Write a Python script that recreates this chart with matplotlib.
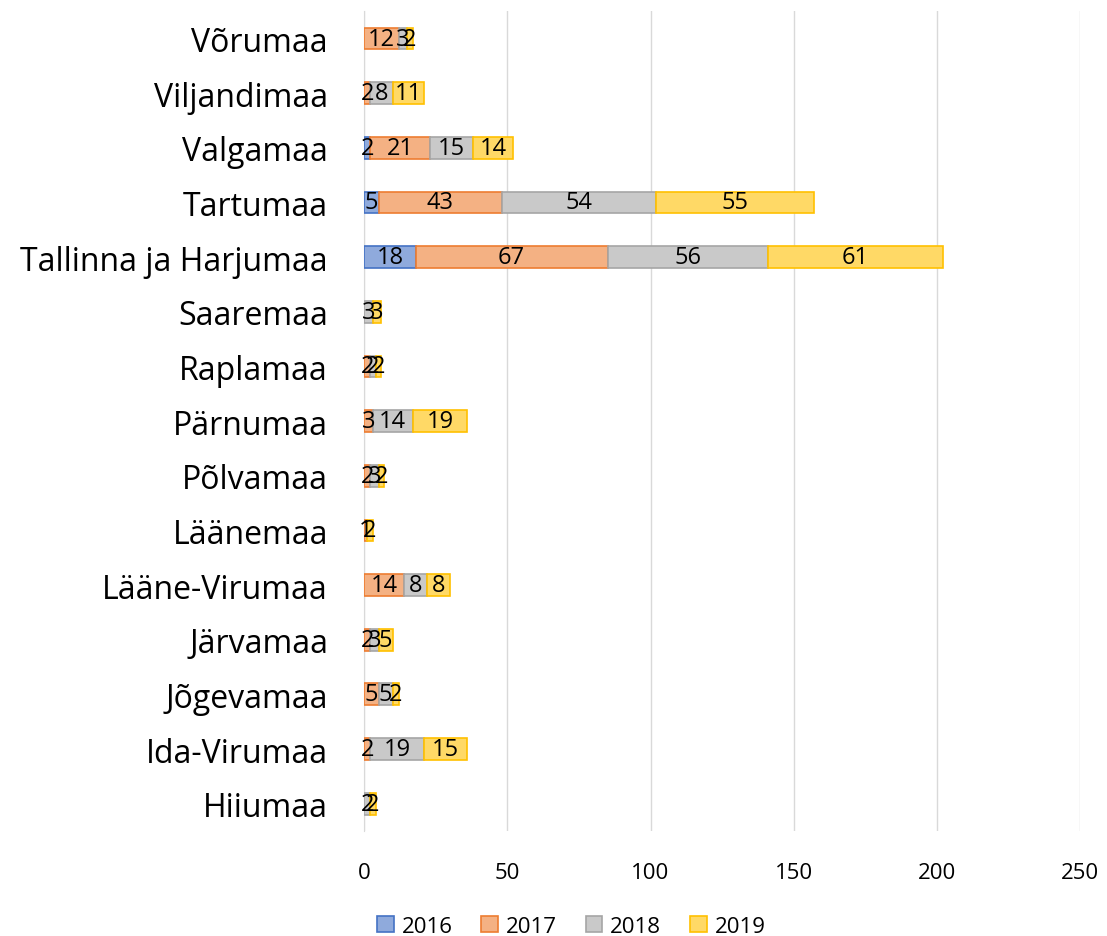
import matplotlib.pyplot as plt
import numpy as np

plt.rcParams['font.family'] = ['Open Sans', 'DejaVu Sans']

counties = ['Hiiumaa', 'Ida-Virumaa', 'Jõgevamaa', 'Järvamaa', 'Lääne-Virumaa',
            'Läänemaa', 'Põlvamaa', 'Pärnumaa', 'Raplamaa', 'Saaremaa',
            'Tallinna ja Harjumaa', 'Tartumaa', 'Valgamaa', 'Viljandimaa', 'Võrumaa']
years = ['2016', '2017', '2018', '2019']
v2016 = [0, 0, 0, 0, 0, 0, 0, 0, 0, 0, 18, 5, 2, 0, 0]
v2017 = [0, 2, 5, 2, 14, 1, 2, 3, 2, 0, 67, 43, 21, 2, 12]
v2018 = [2, 19, 5, 3, 8, 0, 3, 14, 2, 3, 56, 54, 15, 8, 3]
v2019 = [2, 15, 2, 5, 8, 2, 2, 19, 2, 3, 61, 55, 14, 11, 2]

fills = ['#8FAADC', '#F4B183', '#C9C9C9', '#FFD966']
edges = ['#4472C4', '#ED7D31', '#A5A5A5', '#FFC000']

fig = plt.figure(figsize=(11.07, 9.37), dpi=100)
ax = fig.add_axes([0.329, 0.112, 0.6466, 0.875])

y = np.arange(len(counties))
left = np.zeros(len(counties))
for vals, yr, fc, ec in zip([v2016, v2017, v2018, v2019], years, fills, edges):
    vals = np.array(vals)
    ax.barh(y, vals, left=left, height=0.4, color=fc, edgecolor=ec,
            linewidth=1.2, label=yr, zorder=3)
    for yi, v, l in zip(y, vals, left):
        if v > 0:
            ax.text(l + v / 2, yi, str(v), ha='center', va='center',
                    fontsize=17, color='black', zorder=4)
    left += vals

ax.set_xlim(0, 250)
ax.set_ylim(-0.5, 14.5)
ax.set_xticks([0, 50, 100, 150, 200, 250])
ax.set_yticks(y)
ax.set_yticklabels(counties, fontsize=23)
ax.tick_params(axis='x', labelsize=16, length=0, pad=22)
ax.tick_params(axis='y', length=0, pad=26)
ax.grid(axis='x', color='#D9D9D9', linewidth=1, zorder=0)
for s in ['top', 'right', 'bottom']:
    ax.spines[s].set_visible(False)
ax.spines['left'].set_color('#D9D9D9')
ax.spines['left'].set_zorder(1)

fig.legend(loc='lower center', bbox_to_anchor=(0.516, -0.022), ncol=4, frameon=False,
           fontsize=16, handlelength=0.75, handleheight=0.75, columnspacing=1.3,
           handletextpad=0.35)

fig.savefig('out.png', dpi=100)
